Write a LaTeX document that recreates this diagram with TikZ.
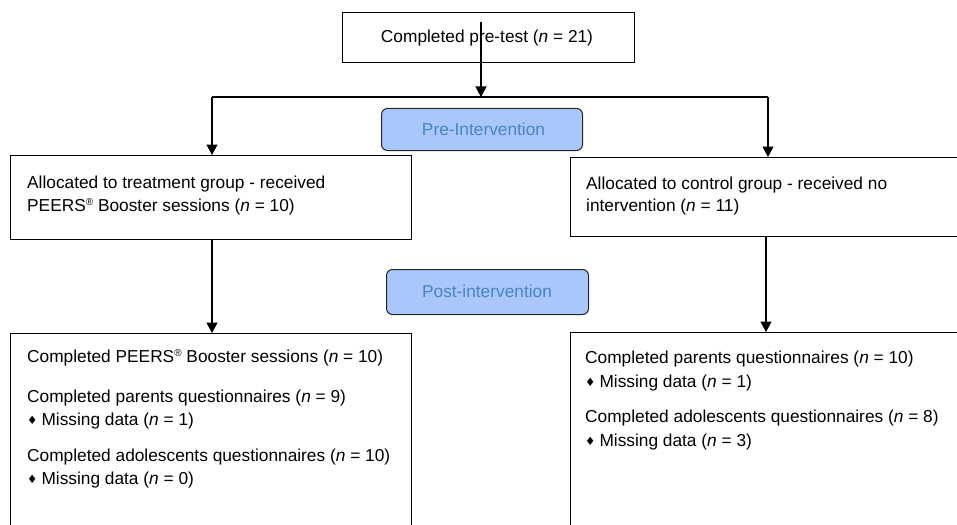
\documentclass[tikz,border=0pt]{standalone}
\usepackage{fontspec}
\setmainfont{Liberation Sans}
\newfontfamily\symfont{DejaVu Sans}
\usetikzlibrary{arrows.meta}
\definecolor{phasefill}{HTML}{A9C7FA}
\definecolor{phasetext}{HTML}{4A84C6}
\newcommand{\dmd}{{\symfont\fontsize{11.5}{11.5}\selectfont\raisebox{0.3pt}{♦}}\hspace{4pt}}
\newcommand{\regmark}{\raisebox{5.2pt}{\fontsize{10}{10}\selectfont ®}}
\tikzset{
  box/.style={draw=black, line width=1.1pt, inner sep=0pt, anchor=north west},
  phase/.style={draw=black!85, line width=1pt, fill=phasefill, rounded corners=6pt, inner sep=0pt, anchor=north west},
  phasetxt/.style={anchor=base, inner sep=0pt, text=phasetext, font=\fontsize{17.3}{20}\selectfont},
  txt/.style={anchor=base west, inner sep=0pt, font=\fontsize{17.3}{20}\selectfont},
  arr/.style={line width=1.3pt, -{Triangle[width=11pt,length=10.5pt]}},
  ln/.style={line width=1.3pt},
}
\begin{document}
\begin{tikzpicture}[x=1pt,y=-1pt]
\clip (0,0) rectangle (957,524);
\fill[white] (0,0) rectangle (957,524);
% boxes
\node[box, minimum width=292pt, minimum height=50pt] (top) at (342,12) {};
\node[txt, anchor=base] (toptxt) at (487,43) {Completed pre-test (\textit{n} = 21)};
\node[box, minimum width=401pt, minimum height=84pt] (lb1) at (10,155) {};
\node[box, minimum width=400pt, minimum height=79pt] (rb1) at (570,157) {};
\node[box, minimum width=401pt, minimum height=220pt] (lb2) at (10,333) {};
\node[box, minimum width=400pt, minimum height=220pt] (rb2) at (570,332) {};
\node[phase, minimum width=201pt, minimum height=42pt] (pre) at (381,108) {};
\node[phasetxt] (pretxt) at (483.5,135.5) {Pre-Intervention};
\node[phase, minimum width=202pt, minimum height=45pt] (post) at (386,269) {};
\node[phasetxt] (posttxt) at (487,297) {Post-intervention};
% texts
\node[txt] (l1a) at (27,188) {Allocated to treatment group - received};
\node[txt] (l1b) at (27,211) {PEERS\regmark{} Booster sessions (\textit{n} = 10)};
\node[txt] (r1a) at (586,189) {Allocated to control group - received no};
\node[txt] (r1b) at (586,211) {intervention (\textit{n} = 11)};
\node[txt] (l2a) at (27,362) {Completed PEERS\regmark{} Booster sessions (\textit{n} = 10)};
\node[txt] (l2b) at (27,402) {Completed parents questionnaires (\textit{n} = 9)};
\node[txt] (l2c) at (27,425) {\dmd Missing data (\textit{n} = 1)};
\node[txt] (l2d) at (27,461) {Completed adolescents questionnaires (\textit{n} = 10)};
\node[txt] (l2e) at (27,484) {\dmd Missing data (\textit{n} = 0)};
\node[txt] (r2a) at (585,363) {Completed parents questionnaires (\textit{n} = 10)};
\node[txt] (r2b) at (585,387) {\dmd Missing data (\textit{n} = 1)};
\node[txt] (r2c) at (585,422) {Completed adolescents questionnaires (\textit{n} = 8)};
\node[txt] (r2d) at (585,446) {\dmd Missing data (\textit{n} = 3)};
% connectors
\coordinate (start) at (481,22);
\coordinate (split) at (481,97);
\coordinate (lx) at (212,97);
\coordinate (rx) at (768,97);
\coordinate (rx2) at (766,0);
\draw[arr] (start) -- (split);
\draw[ln] (lx) -- (rx);
\draw[arr] (lx) -- (lb1.north -| lx);
\draw[arr] (rx) -- (rb1.north -| rx);
\draw[arr] (lb1.south -| lx) -- (lb2.north -| lx);
\draw[arr] (rb1.south -| rx2) -- (rb2.north -| rx2);
\end{tikzpicture}
\end{document}
